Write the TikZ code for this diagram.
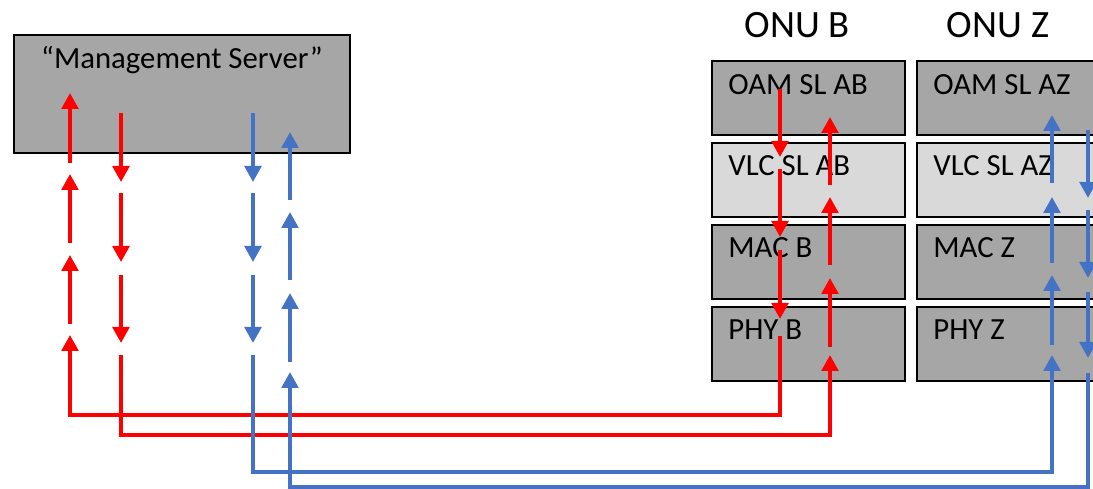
\documentclass[tikz,border=0pt]{standalone}
\usepackage{fontspec}
\setmainfont{Carlito}
\usetikzlibrary{arrows.meta,positioning}
\definecolor{msred}{RGB}{255,0,0}
\definecolor{msblue}{RGB}{68,114,196}
\definecolor{laydark}{RGB}{166,166,166}
\definecolor{laylight}{RGB}{217,217,217}

\begin{document}
\begin{tikzpicture}[
  x=0.02cm, y=-0.02cm,
  % Styles
  layer/.style={draw, line width=0.04cm, minimum width=3.86cm,
                minimum height=1.48cm, inner sep=0pt},
  onulabel/.style={font=\fontsize{22}{26}\selectfont},
  laytext/.style={font=\fontsize{17.5}{21}\selectfont, anchor=base west, inner sep=0pt},
  redflow/.style={-{Triangle[length=0.32cm,width=0.33cm]}, line width=0.08cm, draw=msred},
  blueflow/.style={-{Triangle[length=0.32cm,width=0.33cm]}, line width=0.08cm, draw=msblue},
  node distance=0.12cm
]
\useasboundingbox (0,0) rectangle (1093,489);
\clip (0,0) rectangle (1093,489);

% --- 1. Management Server ---
\node[draw, line width=0.04cm, fill=laydark, minimum width=6.72cm,
      minimum height=2.36cm] (mgmt) at (182,94) {};
\node[laytext, anchor=base] (mgmttxt) at ([shift={(0,34)}]mgmt.north) {“Management Server”};

% --- 2. ONU B ---
\node[onulabel] (onuB) at (797,25) {ONU B};
\node[layer, fill=laydark] (oamB) at (808.5,98) {};
\node[layer, fill=laylight, below=of oamB] (vlcB) {};
\node[layer, fill=laydark, below=of vlcB] (macB) {};
\node[layer, fill=laydark, below=of macB] (phyB) {};
\node[laytext] (oamBtxt) at ([shift={(17,34)}]oamB.north west) {OAM SL AB};
\node[laytext] (vlcBtxt) at ([shift={(17,34)}]vlcB.north west) {VLC SL AB};
\node[laytext] (macBtxt) at ([shift={(17,34)}]macB.north west) {MAC B};
\node[laytext] (phyBtxt) at ([shift={(17,34)}]phyB.north west) {PHY B};

% --- 3. ONU Z --- (cut off at the right edge)
\node[onulabel] (onuZ) at (998,25) {ONU Z};
\node[layer, fill=laydark] (oamZ) at (1013.5,98) {};
\node[layer, fill=laylight, below=of oamZ] (vlcZ) {};
\node[layer, fill=laydark, below=of vlcZ] (macZ) {};
\node[layer, fill=laydark, below=of macZ] (phyZ) {};
\node[laytext] (oamZtxt) at ([shift={(17,34)}]oamZ.north west) {OAM SL AZ};
\node[laytext] (vlcZtxt) at ([shift={(17,34)}]vlcZ.north west) {VLC SL AZ};
\node[laytext] (macZtxt) at ([shift={(17,34)}]macZ.north west) {MAC Z};
\node[laytext] (phyZtxt) at ([shift={(17,34)}]phyZ.north west) {PHY Z};

% --- 4. Red flows (ONU B) ---
% down through ONU B, back up into the server
\foreach \a/\b in {89/157,169/237,250/319}
  \draw[redflow] (780,\a) -- (780,\b);
\coordinate (rBout) at (780,336);
\coordinate (rMin) at (70,335);
\draw[redflow] (rBout) -- ++(0,79) -| (rMin);
\foreach \a/\b in {324/255,243/174,163/93}
  \draw[redflow] (70,\a) -- (70,\b);

% down out of the server, up through ONU B
\foreach \a/\b in {113/182,193/262,275/343}
  \draw[redflow] (121,\a) -- (121,\b);
\coordinate (rMout) at (121,355);
\coordinate (rBin) at (830,355);
\draw[redflow] (rMout) -- ++(0,80) -| (rBin);
\foreach \a/\b in {347/278,265/197,185/117}
  \draw[redflow] (830,\a) -- (830,\b);

% --- 5. Blue flows (ONU Z) ---
% down out of the server, up through ONU Z
\foreach \a/\b in {113/182,193/262,275/343}
  \draw[blueflow] (253,\a) -- (253,\b);
\coordinate (bMout) at (253,355);
\coordinate (bZin) at (1052,355);
\draw[blueflow] (bMout) -- ++(0,117) -| (bZin);
\foreach \a/\b in {345/275,263/197,183/115}
  \draw[blueflow] (1052,\a) -- (1052,\b);

% down through ONU Z, back up into the server
\foreach \a/\b in {130/198,210/278,292/358}
  \draw[blueflow] (1088,\a) -- (1088,\b);
\coordinate (bZout) at (1088,373);
\coordinate (bMin) at (290,372);
\draw[blueflow] (bZout) -- ++(0,114) -| (bMin);
\foreach \a/\b in {362/293,280/212,200/132}
  \draw[blueflow] (290,\a) -- (290,\b);

\end{tikzpicture}
\end{document}
